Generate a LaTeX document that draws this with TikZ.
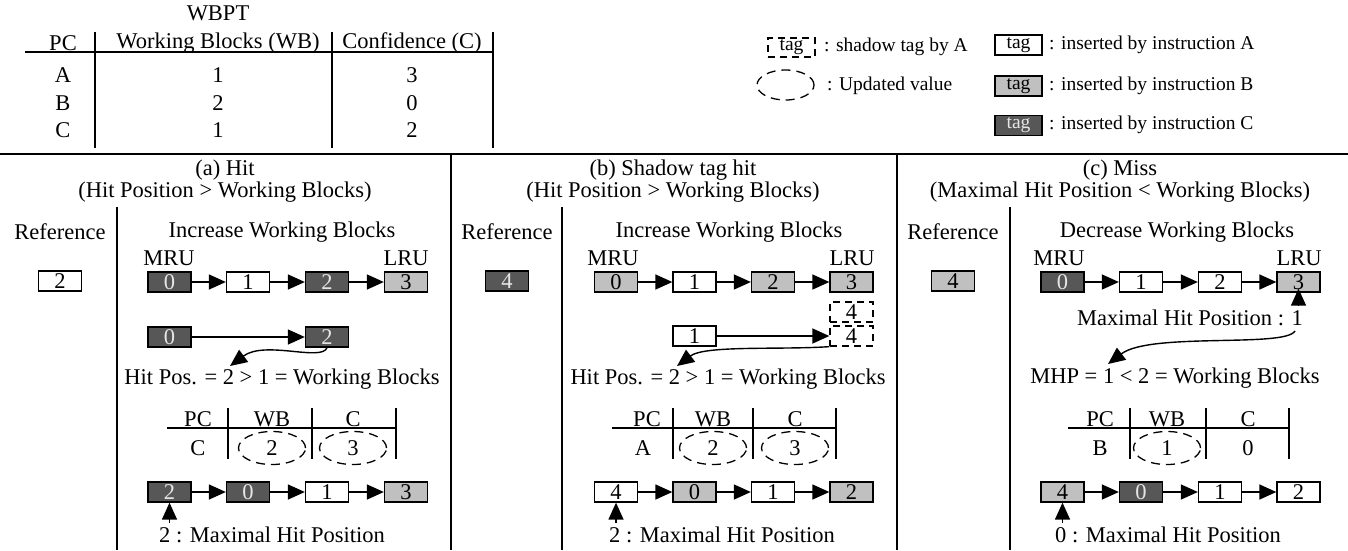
\documentclass[tikz,border=0pt]{standalone}
\usepackage{fontspec}
\setmainfont{Liberation Serif}
\usetikzlibrary{arrows.meta,shapes.geometric}
\definecolor{tgray}{HTML}{C0C0C0}
\definecolor{tdark}{HTML}{575757}
\definecolor{tdtext}{HTML}{E6E6E6}
\begin{document}
\begin{tikzpicture}[x=1pt,y=-1pt,
  every node/.style={font=\fontsize{22.5}{26}\selectfont, inner sep=0pt},
  ttl/.style={align=center, font=\fontsize{22.5}{18.5}\selectfont},
  leg/.style={font=\fontsize{19.5}{23}\selectfont},
  tagw/.style={draw, line width=1.3pt, fill=white, minimum width=43pt, minimum height=20pt},
  tagg/.style={tagw, fill=tgray},
  tagd/.style={tagw, fill=tdark, text=tdtext},
  shad/.style={draw, line width=1.3pt, dash pattern=on 7pt off 5pt, minimum width=43pt, minimum height=20pt},
  upd/.style={draw, ellipse, line width=1.3pt, dash pattern=on 9pt off 6pt, minimum width=67pt, minimum height=33pt},
  ln/.style={line width=1.4pt},
  arr/.style={line width=1.4pt, -{Triangle[length=17pt,width=15pt]}}]
\useasboundingbox (0,0) rectangle (1348,550);

% ---------- WBPT table ----------
\node (wbpt) at (218,13) {WBPT};
\node (hpc) at (63,43) {PC};
\node (hwb) at (218,43) {Working Blocks (WB)};
\node (hc) at (412,43) {Confidence (C)};
\draw[ln] (25,52) -- (494,52);
\draw[ln] (95,32) -- (95,148);
\draw[ln] (332,32) -- (332,148);
\draw[ln] (493,32) -- (493,148);
\node (ra) at (63,75) {A}; \node (ra1) at (218,75) {1}; \node (ra2) at (412,75) {3};
\node (rb) at (63,103) {B}; \node (rb1) at (218,103) {2}; \node (rb2) at (412,103) {0};
\node (rc) at (63,130) {C}; \node (rc1) at (218,130) {1}; \node (rc2) at (412,130) {2};

% ---------- legend ----------
\node[shad, leg, minimum width=47pt, minimum height=19pt] (lsh) at (791.5,47.5) {tag};
\node[leg, anchor=west] (lsht) at (824,47) {: shadow tag by A};
\node[upd, minimum width=57pt, minimum height=30pt] (lup) at (785.5,85) {};
\node[leg, anchor=west] (lupt) at (827,86) {: Updated value};
\node[tagw, leg, minimum width=47pt] (lw) at (1018.5,45) {tag};
\node[leg, anchor=west] (lwt) at (1049,45) {: inserted by instruction A};
\node[tagg, leg, minimum width=47pt] (lg) at (1018.5,86) {tag};
\node[leg, anchor=west] (lgt) at (1049,86) {: inserted by instruction B};
\node[tagd, leg, minimum width=47pt] (ld) at (1018.5,125.5) {tag};
\node[leg, anchor=west] (ldt) at (1049,125) {: inserted by instruction C};

% ---------- frame ----------
\draw[line width=1.8pt] (0,154) -- (1348,154);
\draw[ln] (451,154) -- (451,550);
\draw[ln] (897,154) -- (897,550);
\draw[ln] (117,207) -- (117,550);
\draw[ln] (562,207) -- (562,550);
\draw[ln] (1010,207) -- (1010,550);

% ---------- panel (a) ----------
\node[ttl] (at) at (225,181) {(a) Hit\\(Hit Position > Working Blocks)};
\node (aref) at (60,232) {Reference};
\node (ainc) at (282,232) {Increase Working Blocks};
\node (amru) at (169,258) {MRU};
\node (alru) at (406,258) {LRU};
\node[tagw] (arb) at (60,281) {2};
\node[tagd] (a0) at (169.5,282) {0};
\node[tagw] (a1) at (248,282) {1};
\node[tagd] (a2) at (327,282) {2};
\node[tagg] (a3) at (406,282) {3};
\draw[arr] (a0) -- (a1); \draw[arr] (a1) -- (a2); \draw[arr] (a2) -- (a3);
\node[tagd] (a0b) at (169.5,337) {0};
\node[tagd] (a2b) at (327,337) {2};
\draw[arr] (a0b) -- (a2b);
\node (ahp) at (282,379) {Hit Pos. = 2 > 1 = Working Blocks};
\coordinate (aht) at (230,366);
\draw[arr] (a2b.south) .. controls (322,362) and (265,340) .. (aht);
\node (apc) at (198,419) {PC}; \node (awb) at (272,419) {WB}; \node (ac) at (353,419) {C};
\draw[ln] (167,428) -- (396,428);
\draw[ln] (228,408) -- (228,459);
\draw[ln] (312,408) -- (312,459);
\draw[ln] (396,408) -- (396,459);
\node (arow) at (198,448) {C};
\node[upd] (aw) at (272,448) {2};
\node[upd] (acc) at (353,448) {3};
\node[tagd] (a0c) at (169.5,492) {2};
\node[tagd] (a1c) at (248,492) {0};
\node[tagw] (a2c) at (327,492) {1};
\node[tagg] (a3c) at (406,492) {3};
\draw[arr] (a0c) -- (a1c); \draw[arr] (a1c) -- (a2c); \draw[arr] (a2c) -- (a3c);
\node (amh) at (272,535) {2 : Maximal Hit Position};
\draw[arr] ([yshift=4pt]amh.north -| a0c.south) -- (a0c.south);

% ---------- panel (b) ----------
\node[ttl] (bt) at (673,181) {(b) Shadow tag hit\\(Hit Position > Working Blocks)};
\node (bref) at (507,232) {Reference};
\node (binc) at (729,232) {Increase Working Blocks};
\node (bmru) at (613,258) {MRU};
\node (blru) at (852,258) {LRU};
\node[tagd] (brb) at (507,281) {4};
\node[tagg] (b0) at (616,282) {0};
\node[tagw] (b1) at (694.5,282) {1};
\node[tagg] (b2) at (773,282) {2};
\node[tagg] (b3) at (851.5,282) {3};
\draw[arr] (b0) -- (b1); \draw[arr] (b1) -- (b2); \draw[arr] (b2) -- (b3);
\node[shad] (s4a) at (851.5,312) {4};
\node[shad] (s4b) at (851.5,336) {4};
\node[tagw] (b1b) at (694.5,336) {1};
\draw[arr] (b1b) -- (s4b);
\node (bhp) at (728,379) {Hit Pos. = 2 > 1 = Working Blocks};
\coordinate (bht) at (677,366);
\draw[arr] (s4b.south west) .. controls (780,350) and (705,345) .. (bht);
\node (bpc) at (647,419) {PC}; \node (bwb) at (713,419) {WB}; \node (bc) at (795,419) {C};
\draw[ln] (612,428) -- (837,428);
\draw[ln] (673,408) -- (673,459);
\draw[ln] (753,408) -- (753,459);
\draw[ln] (836,408) -- (836,459);
\node (brow) at (643,448) {A};
\node[upd] (bw) at (713,448) {2};
\node[upd] (bcc) at (795,448) {3};
\node[tagw] (b0c) at (616,492) {4};
\node[tagg] (b1c) at (694.5,492) {0};
\node[tagw] (b2c) at (773,492) {1};
\node[tagg] (b3c) at (851.5,492) {2};
\draw[arr] (b0c) -- (b1c); \draw[arr] (b1c) -- (b2c); \draw[arr] (b2c) -- (b3c);
\node (bmh) at (722,535) {2 : Maximal Hit Position};
\draw[arr] ([yshift=4pt]bmh.north -| b0c.south) -- (b0c.south);

% ---------- panel (c) ----------
\node[ttl] (ct) at (1120,181) {(c) Miss\\(Maximal Hit Position < Working Blocks)};
\node (cref) at (953,232) {Reference};
\node (cdec) at (1177,232) {Decrease Working Blocks};
\node (cmru) at (1059,258) {MRU};
\node (clru) at (1299,258) {LRU};
\node[tagg] (crb) at (953,281) {4};
\node[tagd] (c0) at (1062.5,282) {0};
\node[tagw] (c1) at (1141,282) {1};
\node[tagw] (c2) at (1220,282) {2};
\node[tagg] (c3) at (1298.5,282) {3};
\draw[arr] (c0) -- (c1); \draw[arr] (c1) -- (c2); \draw[arr] (c2) -- (c3);
\node (cmhp) at (1190,318) {Maximal Hit Position : 1};
\draw[arr] ([yshift=4pt]cmhp.north -| c3.south) -- ([yshift=4pt]c3.south);
\coordinate (cs) at (1295,331);
\coordinate (cq) at (1108,364);
\draw[arr] (cs) .. controls (1285,348) and (1150,332) .. (cq);
\node (chp) at (1175,378) {MHP = 1 < 2 = Working Blocks};
\node (cpc) at (1100,419) {PC}; \node (cwb) at (1167,419) {WB}; \node (cc) at (1248,419) {C};
\draw[ln] (1068,428) -- (1290,428);
\draw[ln] (1130,408) -- (1130,459);
\draw[ln] (1206,408) -- (1206,459);
\draw[ln] (1289,408) -- (1289,459);
\node (crow) at (1100,448) {B};
\node[upd] (cw) at (1167,448) {1};
\node (ccc) at (1248,448) {0};
\node[tagg] (c0c) at (1062.5,492) {4};
\node[tagd] (c1c) at (1141,492) {0};
\node[tagw] (c2c) at (1220,492) {1};
\node[tagw] (c3c) at (1298.5,492) {2};
\draw[arr] (c0c) -- (c1c); \draw[arr] (c1c) -- (c2c); \draw[arr] (c2c) -- (c3c);
\node (cmh) at (1168,535) {0 : Maximal Hit Position};
\draw[arr] ([yshift=4pt]cmh.north -| c0c.south) -- (c0c.south);
\end{tikzpicture}
\end{document}
